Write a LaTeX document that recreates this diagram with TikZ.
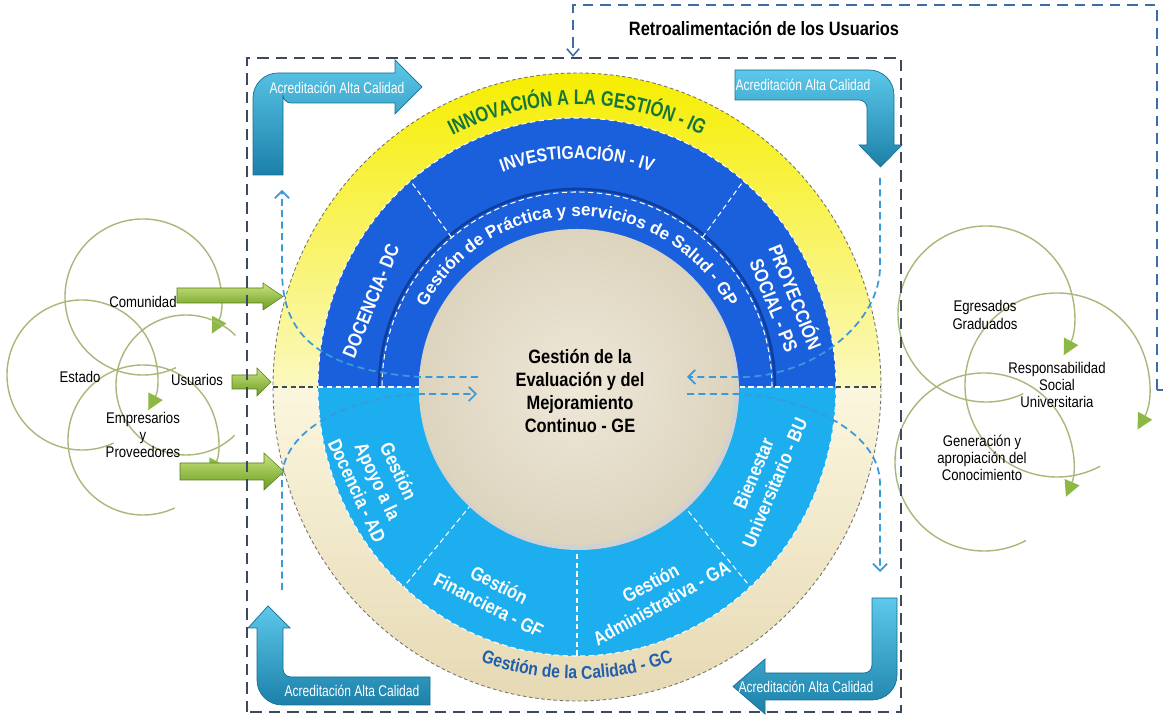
\documentclass[tikz,border=0pt]{standalone}
\usepackage{fontspec}
\setmainfont{Liberation Sans}
\newfontfamily\nf[FakeStretch=0.85]{Liberation Sans}
\newfontfamily\cf[FakeStretch=0.78]{Liberation Sans}
\usetikzlibrary{arrows.meta,decorations.text}
\definecolor{yelT}{HTML}{F6EE00}
\definecolor{yelB}{HTML}{FBF8C0}
\definecolor{beiT}{HTML}{FBF6DE}
\definecolor{beiB}{HTML}{E6D9B4}
\definecolor{dblueC}{HTML}{1A60DD}
\definecolor{gpE}{HTML}{0E3F9E}
\definecolor{lblueC}{HTML}{1DAEEF}
\definecolor{cbeiI}{HTML}{EEE8D9}
\definecolor{cbeiO}{HTML}{DDD4BE}
\definecolor{igreen}{HTML}{16763A}
\definecolor{gcblue}{HTML}{1F5FAE}
\definecolor{tealL}{HTML}{5CC8EA}
\definecolor{tealD}{HTML}{1C80A9}
\definecolor{tealE}{HTML}{176F93}
\definecolor{grL}{HTML}{C9E47E}
\definecolor{grD}{HTML}{6C9C22}
\definecolor{cycC}{HTML}{A9B87A}
\definecolor{cycF}{HTML}{8DB843}
\definecolor{flowC}{HTML}{3A9AD9}
\definecolor{frameC}{HTML}{3D4A5C}
\definecolor{fbC}{HTML}{3B6DA8}
\begin{document}
\begin{tikzpicture}[x=0.02cm,y=0.02cm,
  lbl/.style={font=\nf\fontsize{8.8}{9.7}\selectfont, text=black, align=center, inner sep=0pt},
  acred/.style={font=\cf\fontsize{8.8}{10}\selectfont, text=white, inner sep=0pt},
  sect/.style={font=\nf\bfseries\fontsize{11}{13}\selectfont, text=white, align=center, inner sep=0pt},
  cyc/.style={draw=cycC, line width=0.8pt},
  cyca/.style={cyc, -{Triangle[length=9pt,width=9pt,color=cycF]}},
  flow/.style={draw=flowC, line width=1pt, dash pattern=on 4pt off 2.5pt, -{Straight Barb[length=4pt,width=8pt]}},
  greenarr/.style={top color=grL, bottom color=grD, draw=grD!80!black, line width=0.3pt},
  corner/.style={top color=tealL, bottom color=tealD, draw=tealE, line width=0.4pt},
  frame/.style={draw=frameC, line width=1.1pt, dash pattern=on 6.5pt off 4pt},
  fb/.style={draw=fbC, line width=0.9pt, dash pattern=on 6pt off 4pt},
  sectline/.style={draw=white, line width=0.6pt, dash pattern=on 3pt off 2pt}
]
\fill[white] (0,0) rectangle (1163,719);
\useasboundingbox (0,0) rectangle (1163,719);

% ---------- main rings ----------
\begin{scope}[shift={(577,332)}]
  \shade[top color=beiT, bottom color=beiB] (-304,0) arc[start angle=180,end angle=360,x radius=304,y radius=314] -- cycle;
  \shade[top color=yelT, bottom color=yelB] (304,0) arc[start angle=0,end angle=180,x radius=304,y radius=314] -- cycle;
  \draw[black!55, line width=0.5pt, dash pattern=on 2pt off 1.5pt] (0,0) ellipse[x radius=304,y radius=314];
  \fill[dblueC] (259,0) arc[start angle=0,end angle=180,x radius=259,y radius=269] -- cycle;
  \fill[lblueC] (-259,0) arc[start angle=180,end angle=360,x radius=259,y radius=269] -- cycle;
  \draw[sectline] (0,0) ellipse[x radius=259,y radius=269];
  \draw[gpE, line width=1.5pt] (198,0) arc[start angle=0,end angle=180,radius=198];
  \draw[sectline] (195,0) arc[start angle=0,end angle=180,radius=195];
  % sector lines
  \draw[sectline] (130:195) -- (130:259 and 269);
  \draw[sectline] (50:195) -- (50:259 and 269);
  \draw[sectline] (228:158) -- (228:259 and 269);
  \draw[sectline] (270:158) -- (270:259 and 269);
  \draw[sectline] (312:158) -- (312:259 and 269);
  \draw[sectline] (-259,0) -- (259,0);
  \draw[frameC, line width=0.6pt, dash pattern=on 3pt off 2pt] (-304,0) -- (-259,0) (259,0) -- (304,0);
  % centre
  \fill[black!18] (2,-3) circle (160);
  \shade[inner color=cbeiI, outer color=cbeiO] (0,0) circle (158);
  % curved texts
  \path[decorate, decoration={text along path, text align=center,
    text={|\cf\bfseries\fontsize{12}{14}\selectfont\color{igreen}|INNOVACIÓN A LA GESTIÓN - IG}}]
    (150:274 and 282) arc[start angle=150,end angle=30,x radius=274,y radius=282];
  \path[decorate, decoration={text along path, text align=center,
    text={|\nf\bfseries\fontsize{10.5}{12}\selectfont\color{white}|INVESTIGACIÓN - IV}}]
    (150:222 and 228) arc[start angle=150,end angle=30,x radius=222,y radius=228];
  \path[decorate, decoration={text along path, text align=center,
    text={|\bfseries\fontsize{9.8}{12}\selectfont\color{white}|Gestión de Práctica y servicios de Salud - GP}}]
    (178:171) arc[start angle=178,end angle=2,radius=171];
  \path[decorate, decoration={text along path, text align=center,
    text={|\nf\bfseries\fontsize{10.5}{12}\selectfont\color{gcblue}|Gestión de la Calidad - GC}}]
    (230:282 and 292) arc[start angle=230,end angle=310,x radius=282,y radius=292];
\end{scope}

% sector texts
\node[sect, rotate=68] (dc) at (371,418) {DOCENCIA- DC};
\node[sect, rotate=-68] (ps) at (786,418) {PROYECCIÓN\\SOCIAL - PS};
\node[sect, rotate=-65] (ad) at (378,238) {Gestión\\Apoyo a la\\Docencia - AD};
\node[sect, rotate=-27] (gf) at (494,124) {Gestión\\Financiera - GF};
\node[sect, rotate=29] (ga) at (656,126) {Gestión\\Administrativa - GA};
\node[sect, rotate=67] (bu) at (764,241) {Bienestar\\Universitario - BU};
\node[font=\nf\bfseries\fontsize{11}{13}\selectfont, align=center, text=black] (ge) at (580,328)
  {Gestión de la\\Evaluación y del\\Mejoramiento\\Continuo - GE};

% ---------- dashed flows ----------
\coordinate (tlS) at (478,342); \coordinate (tlA) at (420,342);
\coordinate (tlB) at (282,450); \coordinate (tlE) at (282,529);
\draw[flow] (tlS) -- (tlA) .. controls (300,350) and (282,400) .. (tlB) -- (tlE);
\coordinate (trS) at (880,541); \coordinate (trA) at (880,452);
\coordinate (trB) at (745,342); \coordinate (trE) at (687,342);
\draw[flow] (trS) -- (trA) .. controls (880,400) and (820,345) .. (trB) -- (trE);
\coordinate (brS) at (687,325); \coordinate (brA) at (740,325);
\coordinate (brB) at (880,235); \coordinate (brE) at (880,147);
\draw[flow] (brS) -- (brA) .. controls (800,322) and (880,290) .. (brB) -- (brE);
\coordinate (blS) at (282,129); \coordinate (blA) at (282,240);
\coordinate (blB) at (420,325); \coordinate (blE) at (477,325);
\draw[flow] (blS) -- (blA) .. controls (282,290) and (350,322) .. (blB) -- (blE);

% ---------- corner arrows ----------
\shade[corner] (253,544) -- (253,621) arc[start angle=180,end angle=90,radius=25] -- (395,646) -- (395,659) -- (422,632) -- (395,605) -- (395,616) -- (291,616) arc[start angle=270,end angle=180,radius=8] -- (283,544) -- cycle;
\node[acred] (acTL) at (337,631) {Acreditación Alta Calidad};
\shade[corner] (735,649) -- (869,649) arc[start angle=90,end angle=0,radius=25] -- (894,574) -- (902,574) -- (880.5,552) -- (859,574) -- (867,574) -- (867,611) arc[start angle=0,end angle=90,radius=8] -- (735,619) -- cycle;
\node[acred] (acTR) at (803,634) {Acreditación Alta Calidad};
\shade[corner] (257,91) -- (248,91) -- (268,113) -- (290,91) -- (283,91) -- (283,50) arc[start angle=180,end angle=270,radius=8] -- (430,42) -- (430,14) -- (282,14) arc[start angle=270,end angle=180,radius=25] -- cycle;
\node[acred] (acBL) at (352,28) {Acreditación Alta Calidad};
\shade[corner] (872,121) -- (897,121) -- (897,44) arc[start angle=0,end angle=-90,radius=25] -- (765,19) -- (765,5) -- (733,32.5) -- (765,60) -- (765,46) -- (864,46) arc[start angle=270,end angle=360,radius=8] -- cycle;
\node[acred] (acBR) at (806,32) {Acreditación Alta Calidad};

% ---------- cycle circles ----------
\draw[cyca] (143,422) ++(-65:78) arc[start angle=-65,end angle=-388,radius=78];
\draw[cyca] (82,344) ++(-65:75) arc[start angle=-65,end angle=-388,radius=75];
\draw[cyc] (186,334) ++(45:70) arc[start angle=45,end angle=314,radius=70];
\draw[cyca] (143,279) ++(-65:75) arc[start angle=-65,end angle=-388,radius=75];
\draw[cyca] (986,405) ++(-65:88) arc[start angle=-65,end angle=-388,radius=88];
\draw[cyca] (1057,334) ++(-62:92) arc[start angle=-62,end angle=-389,radius=92];
\draw[cyca] (984,257) ++(-62:89) arc[start angle=-62,end angle=-383,radius=89];

\node[lbl] (com) at (143,417) {Comunidad};
\node[lbl] (est) at (80,342) {Estado};
\node[lbl] (usu) at (197,339) {Usuarios};
\node[lbl] (emp) at (143,284) {Empresarios\\y\\Proveedores};
\node[lbl] (egr) at (985,404) {Egresados\\Graduados};
\node[lbl] (rsu) at (1057,334) {Responsabilidad\\Social\\Universitaria};
\node[lbl] (gen) at (982,261) {Generación y\\apropiación del\\Conocimiento};

% ---------- green arrows ----------
\shade[greenarr] (177,416) -- (263,416) -- (263,409) -- (283,422.5) -- (263,436) -- (263,431) -- (177,431) -- cycle;
\shade[greenarr] (232,330) -- (257,330) -- (257,323) -- (271,337) -- (257,351) -- (257,344) -- (232,344) -- cycle;
\shade[greenarr] (180,239) -- (264,239) -- (264,229) -- (284,247.5) -- (264,266) -- (264,256) -- (180,256) -- cycle;

% ---------- frame & feedback ----------
\draw[frame] (247,7) rectangle (901,661);
\coordinate (fbS) at (1163,329); \coordinate (fbR) at (1157,329);
\coordinate (fbTR) at (1157,714); \coordinate (fbTL) at (573,714);
\coordinate (fbE) at (573,662);
\draw[fbC, line width=0.9pt] (fbS) -- (fbR);
\draw[fb, -{Straight Barb[length=4pt,width=7pt]}] (fbR) -- (fbTR) -- (fbTL) -- (fbE);
\node[font=\nf\bfseries\fontsize{11}{13}\selectfont, text=black] (retro) at (764,690) {Retroalimentación de los Usuarios};
\end{tikzpicture}
\end{document}
